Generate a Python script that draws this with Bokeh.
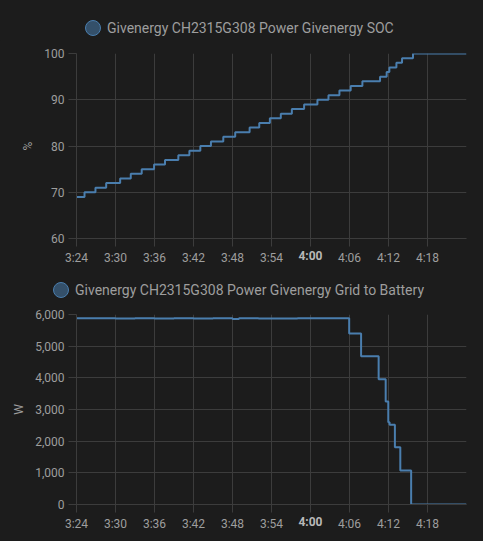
import pandas as pd
from bokeh.plotting import figure
from bokeh.layouts import column
from bokeh.models import (FixedTicker, DatetimeTickFormatter, NumeralTickFormatter,
                          Range1d, DatetimeAxis, Div)
from bokeh.embed import file_html
from bokeh.resources import INLINE

DAY = "2024-01-01 "
X_START = "03:24:00"
X_END = "04:24:00"
TICK_LABELS = ["3:24", "3:30", "3:36", "3:42", "3:48", "3:54", "4:00", "4:06", "4:12", "4:18"]
BOLD_TICK = "4:00"

SOC_TITLE = "Givenergy CH2315G308 Power Givenergy SOC"
soc_times = ["03:24:00", "03:25:14", "03:26:55", "03:28:34", "03:30:43", "03:32:21", "03:34:02",
             "03:35:56", "03:37:37", "03:39:40", "03:41:22", "03:43:03", "03:44:41", "03:46:35",
             "03:48:25", "03:50:38", "03:52:07", "03:53:45", "03:55:26", "03:57:08", "03:59:01",
             "04:01:04", "04:02:46", "04:04:27", "04:06:11", "04:07:59", "04:10:42", "04:11:43",
             "04:12:08", "04:13:13", "04:14:05", "04:15:46", "04:24:00"]
soc_values = [69, 70, 71, 72, 73, 74, 75, 76, 77, 78, 79, 80, 81, 82, 83, 84, 85, 86, 87, 88, 89,
              90, 91, 92, 93, 94, 95, 96, 97, 98, 99, 100, 100]
SOC_TICKS = [60, 70, 80, 90, 100]

GRID_TITLE = "Givenergy CH2315G308 Power Givenergy Grid to Battery"
grid_times = ["03:24:00", "03:27:00", "03:30:00", "03:33:00", "03:36:00", "03:39:00", "03:42:00",
              "03:45:00", "03:48:00", "03:49:00", "03:52:00", "03:55:00", "03:58:00", "04:01:00",
              "04:04:00", "04:05:57", "04:07:47", "04:10:29", "04:11:34", "04:11:58", "04:12:10",
              "04:12:59", "04:13:49", "04:15:29", "04:24:00"]
grid_values = [5880, 5885, 5875, 5880, 5870, 5880, 5875, 5880, 5860, 5880, 5875, 5870, 5880, 5885,
               5880, 5400, 4680, 3956, 3250, 2595, 2520, 1805, 1076, 0, 0]
GRID_TICKS = [0, 1000, 2000, 3000, 4000, 5000, 6000]

BG = "#1c1c1c"
GRIDC = "#3c3c3c"
TEXTC = "#9e9e9e"
LINEC = "#4a7eae"
FONT = "Roboto"


def ms(t):
    return pd.Timestamp(DAY + t).value / 1e6


def style_axis(ax):
    ax.axis_line_color = GRIDC
    ax.major_tick_line_color = GRIDC
    ax.major_tick_out = 8
    ax.major_tick_in = 0
    ax.minor_tick_line_color = None
    ax.major_label_text_color = TEXTC
    ax.major_label_text_font = FONT
    ax.major_label_text_font_size = "12px"
    ax.major_label_standoff = 4
    ax.axis_label_text_color = TEXTC
    ax.axis_label_text_font = FONT
    ax.axis_label_text_font_size = "12px"
    ax.axis_label_text_font_style = "normal"
    ax.axis_label_standoff = 6


def legend_div(title, height, left, top):
    html = (
        f'<div style="position:relative;width:483px;height:{height}px;">'
        f'<div style="position:absolute;left:{left}px;top:{top}px;height:16px;display:flex;'
        f'align-items:center;gap:6px;white-space:nowrap;">'
        f'<span style="display:inline-block;box-sizing:border-box;width:16px;height:16px;'
        f'border-radius:50%;border:1.5px solid {LINEC};background:rgba(68,115,158,0.6);"></span>'
        f'<span style="font-family:{FONT};font-size:14px;color:{TEXTC};line-height:16px;">'
        f'{title}</span></div></div>'
    )
    return Div(text=html, width=483, height=height, margin=0)


def make(times, values, yticks, ylabel, y_end, fmt, height, mb):
    xs = [pd.Timestamp(DAY + t) for t in times]
    p = figure(width=483, height=height, x_axis_type="datetime", output_backend="svg",
               toolbar_location=None,
               x_range=Range1d(ms(X_START), ms(X_END)), y_range=Range1d(yticks[0], y_end),
               min_border_left=mb[0], min_border_right=mb[1], min_border_top=mb[2],
               min_border_bottom=mb[3])
    p.background_fill_color = BG
    p.border_fill_color = BG
    p.outline_line_color = None
    p.step(xs, values, mode="after", line_color=LINEC, line_width=2)

    tick_ms = [ms(("0" + t if len(t) == 4 else t) + ":00") for t in TICK_LABELS]
    fmt_x = DatetimeTickFormatter(minutes="%-H:%M", hourmin="%-H:%M", hours="%-H:%M")
    p.xaxis.ticker = FixedTicker(ticks=tick_ms)
    p.xaxis.formatter = fmt_x
    p.xaxis.major_label_overrides = {tm: ("" if lab == BOLD_TICK else lab)
                                     for tm, lab in zip(tick_ms, TICK_LABELS)}
    p.yaxis.ticker = FixedTicker(ticks=yticks)
    p.yaxis.formatter = fmt
    p.yaxis.axis_label = ylabel
    style_axis(p.xaxis[0])
    style_axis(p.yaxis[0])
    p.xgrid.grid_line_color = GRIDC
    p.ygrid.grid_line_color = GRIDC

    # second axis carrying only the bold tick label, pulled up into the first axis' row
    bold_ms = [tm for tm, lab in zip(tick_ms, TICK_LABELS) if lab == BOLD_TICK]
    ax2 = DatetimeAxis(ticker=FixedTicker(ticks=bold_ms), formatter=fmt_x,
                       major_label_overrides={bold_ms[0]: BOLD_TICK})
    style_axis(ax2)
    ax2.axis_line_color = None
    ax2.major_tick_line_color = None
    ax2.major_tick_out = 0
    ax2.major_label_standoff = -19
    ax2.major_label_text_font_style = "bold"
    ax2.major_label_text_color = "#b8b8b8"
    p.add_layout(ax2, "below")
    return p


d1 = legend_div(SOC_TITLE, 40, 85, 20)
p1 = make(soc_times, soc_values, SOC_TICKS, "%", 100,
          NumeralTickFormatter(format="0"), 230, (75, 17, 13, 32))
d2 = legend_div(GRID_TITLE, 30, 53, 12)
p2 = make(grid_times, grid_values, GRID_TICKS, "W", 6000,
          NumeralTickFormatter(format="0,0"), 240, (76, 17, 14, 36))

layout = column(d1, p1, d2, p2, spacing=0)
layout.styles = {"background-color": BG}
html = file_html(layout, INLINE)
html = html.replace("<head>", "<head><style>body{background:#1c1c1c;margin:0;}</style>", 1)
open("out.html", "w").write(html)
